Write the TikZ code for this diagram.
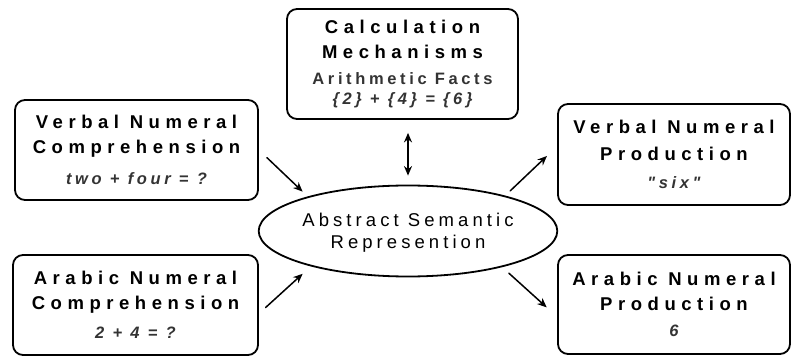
\documentclass[tikz,border=0pt]{standalone}
\usepackage{fontspec}
\setmainfont{Liberation Sans}
\newfontfamily\headfont[LetterSpace=30]{Liberation Sans}
\newfontfamily\notefont[LetterSpace=22]{Liberation Sans}
\usetikzlibrary{arrows.meta,shapes.geometric}
\tikzset{
  box/.style={draw,line width=1.8pt,rounded corners=10pt,align=center,inner sep=0pt},
  head/.style={font=\headfont\bfseries\fontsize{18.5}{25}\selectfont},
  arr/.style={-{Stealth[length=9.5pt,width=8pt]},line width=1.5pt},
  dbl/.style={{Stealth[length=9.5pt,width=8pt]}-{Stealth[length=9.5pt,width=8pt]},line width=1.5pt}
}
\newcommand{\note}[1]{{\notefont\color{black!80}\fontsize{16.5}{25}\selectfont #1}}
\begin{document}
\begin{tikzpicture}[x=1pt,y=1pt,line cap=round,line join=round]
  \useasboundingbox (0,0) rectangle (792,356);
  % Boxes round the centre.
  \node[box,head,minimum width=231,minimum height=110] (calc) at (402.5,292)
    {Calculation\\Mechanisms\\[1pt]\note{Arithmetic Facts}\\[-5pt]\note{\itshape\{2\} + \{4\} = \{6\}}};
  \node[box,head,minimum width=243,minimum height=100] (vnc) at (136.5,206)
    {Verbal Numeral\\Comprehension\\[6pt]\note{\itshape two + four = ?}};
  \node[box,head,minimum width=245,minimum height=100] (anc) at (135.5,51)
    {Arabic Numeral\\Comprehension\\[4pt]\note{\itshape 2 + 4 = ?}};
  \node[box,head,minimum width=232,minimum height=101] (vnp) at (674,201.5)
    {Verbal Numeral\\[2pt]Production\\[3pt]\note{\itshape "six"}};
  \node[box,head,minimum width=232,minimum height=99] (anp) at (674,51.5)
    {Arabic Numeral\\Production\\[1pt]\note{\itshape\bfseries 6}};

  % Semantic core.
  \node[draw,ellipse,line width=1.8pt,minimum width=290,minimum height=91,inner sep=0pt,
    align=center,font=\notefont\fontsize{18.5}{22}\selectfont] (ell) at (408,125)
    {\\[-6pt]Abstract Semantic\\Represention};

  % Arrows.
  \draw[arr,shorten <=11pt,shorten >=7pt] (vnc.east) -- (ell.161);
  \draw[arr,shorten <=9pt,shorten >=11pt] (anc.-4) -- (ell.200);
  \draw[arr,shorten <=7pt,shorten >=14pt] (ell.20) -- (vnp.176);
  \draw[arr,shorten <=9pt,shorten >=14pt] (ell.-21) -- (anp.186);
  \draw[dbl,shorten <=13pt,shorten >=9pt] (ell.north |- calc.south) -- (ell.north);
\end{tikzpicture}
\end{document}
